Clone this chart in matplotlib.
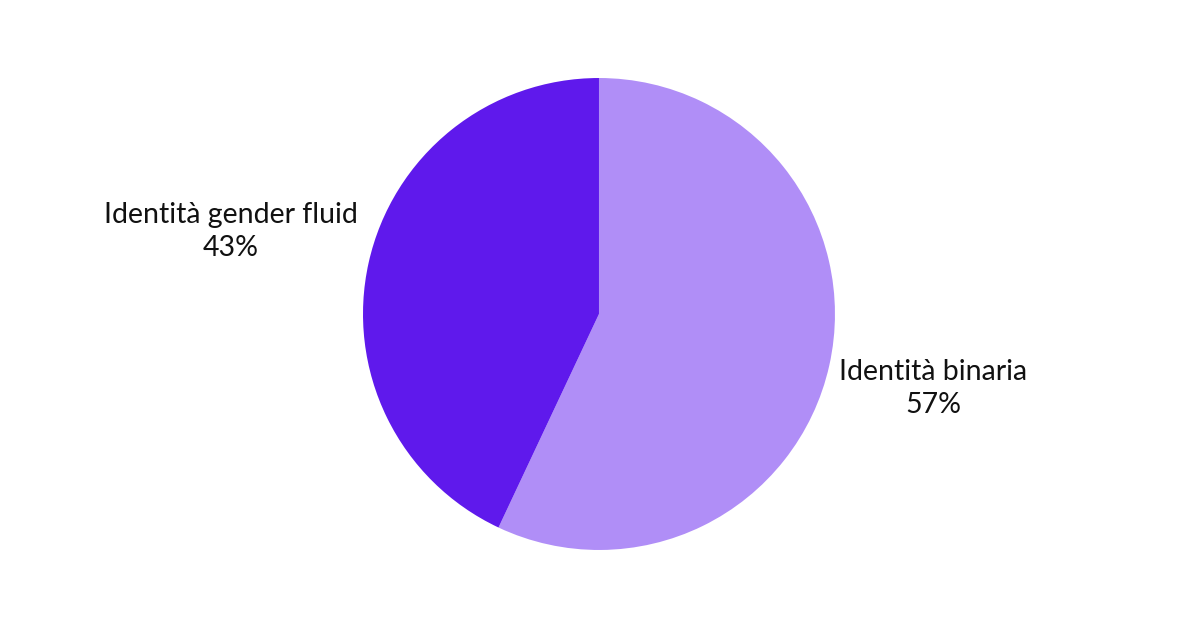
import numpy as np
import matplotlib.pyplot as plt

plt.rcParams['font.family'] = ['Lato', 'DejaVu Sans']

labels = ['Identità binaria', 'Identità gender fluid']
values = [57, 43]
colors = ['#b08ef7', '#5f19ec']

fig = plt.figure(figsize=(12, 6.3), dpi=100)
ax = fig.add_axes([0.3025, 0.127, 0.3933, 0.7492])
wedges, _ = ax.pie(values, colors=colors, startangle=90, counterclock=False,
                   radius=1, wedgeprops=dict(linewidth=0))
ax.set_xlim(-1, 1)
ax.set_ylim(-1, 1)
ax.set_aspect('equal')
ax.axis('off')

# label positions along each wedge's middle angle
dists = [1.45, 1.6]
for w, lab, v, d in zip(wedges, labels, values, dists):
    ang = np.deg2rad((w.theta1 + w.theta2) / 2)
    x, y = d * np.cos(ang), d * np.sin(ang)
    ax.text(x, y, f'{lab}\n{v}%', ha='center', va='center', fontsize=20.5,
            linespacing=1.35, color='#111111', clip_on=False)

fig.savefig('out.png', dpi=100, facecolor='white')
